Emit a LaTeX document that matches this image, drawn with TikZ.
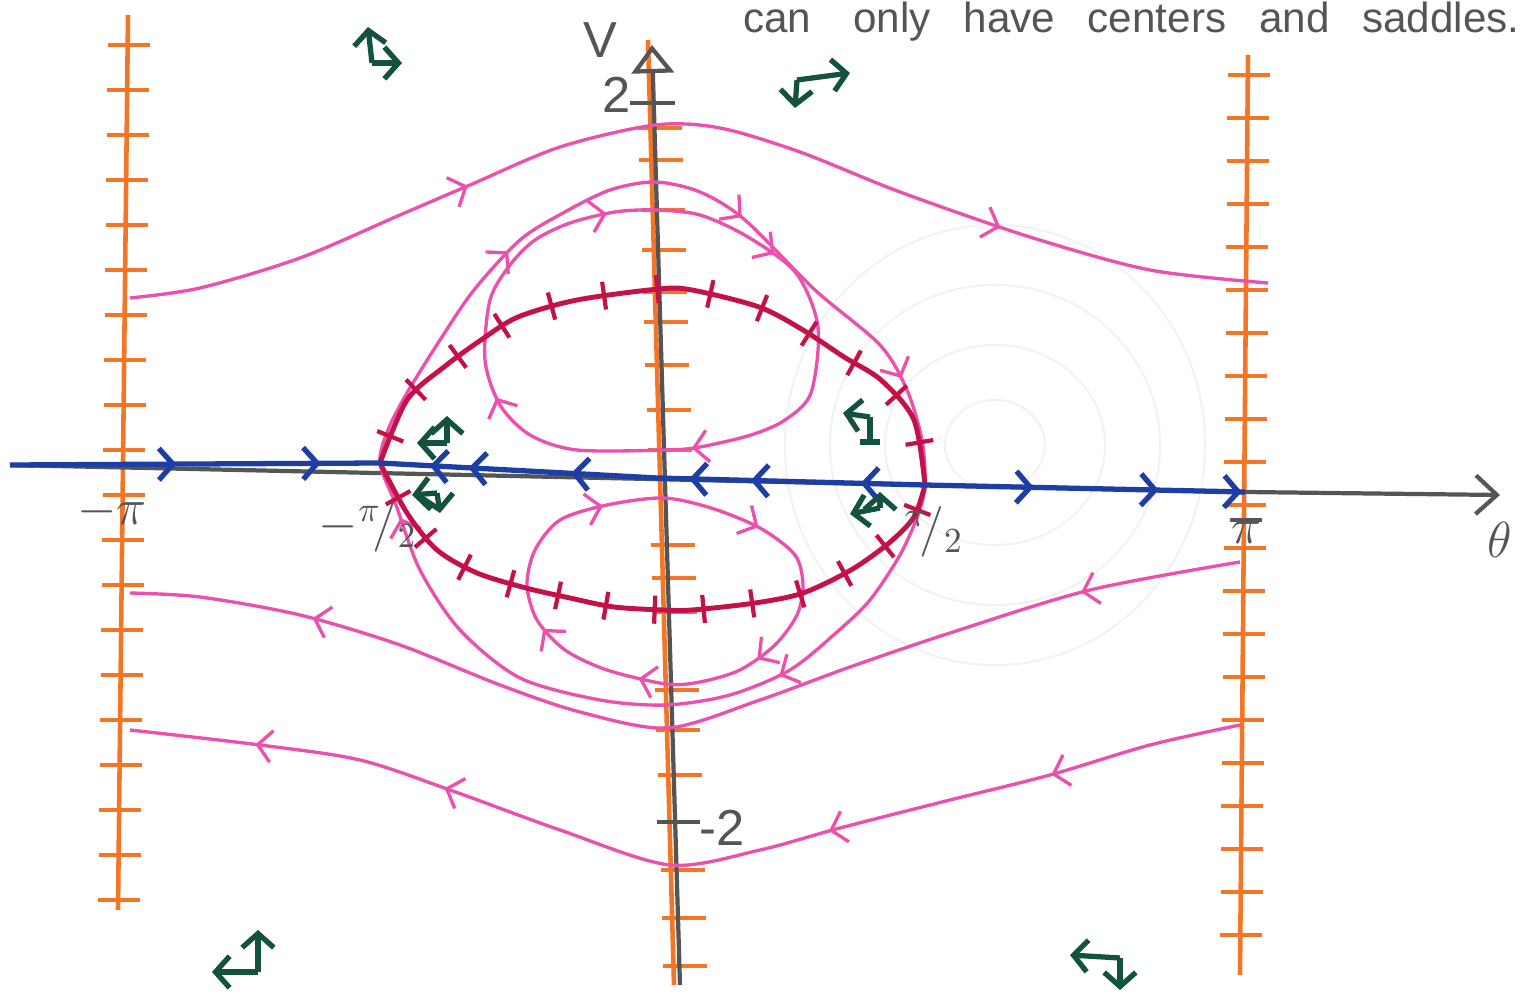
\documentclass[tikz,border=0pt]{standalone}
\usepackage{fontspec}
\setmainfont{Liberation Sans}
\usetikzlibrary{arrows.meta,decorations.markings}

\definecolor{trajpink}{RGB}{234,80,172}
\definecolor{sepred}{RGB}{196,18,72}
\definecolor{flowblue}{RGB}{28,62,165}
\definecolor{isoorange}{RGB}{242,118,38}
\definecolor{dirgreen}{RGB}{18,82,62}
\definecolor{axisgray}{RGB}{85,85,85}

\tikzset{
  traj/.style={draw=trajpink, line width=0.95pt},
  sep/.style={draw=sepred, line width=1.4pt},
  flow/.style={draw=flowblue, line width=1.5pt},
  iso/.style={draw=isoorange, line width=1.3pt},
  axisline/.style={draw=axisgray, line width=1.2pt},
  dirarr/.style={draw=dirgreen, line width=1.5pt, -{Straight Barb[length=4pt,width=9pt]}},
  arr/.style={postaction={decorate, decoration={markings,
      mark=at position #1 with {\arrow{Straight Barb[length=4pt,width=9pt]}}}}},
  tickmarks/.style={postaction={decorate, decoration={markings,
      mark=between positions 0.04 and 0.97 step 0.075 with {\draw[sepred, line width=1.2pt] (0pt,-4pt) -- (0pt,4pt);}}}},
  lbl/.style={text=axisgray, font=\Large},
}

\newcommand{\elbow}[3]{\draw[dirarr] #1 -- ++#2; \draw[dirarr] #1 -- ++#3;}

\begin{document}
\begin{tikzpicture}[x=0.01cm, y=-0.01cm]
\useasboundingbox (0,0) rectangle (1535,994);

% faint rings showing through the page
\foreach \r/\s in {0.5/0.45, 1.1/1.0, 1.65/1.6, 2.1/2.2}
  \draw[gray!10, line width=0.6pt] (995,445) ellipse [x radius=\r cm, y radius=\s cm];

% heading (cut off at the top)
\node[anchor=base east, text=axisgray, font=\fontsize{12}{14}\selectfont] (head) at (1532,33)
  {can\quad only\enspace\ have\enspace\ centers\enspace\ and\enspace\ saddles.};

\coordinate (sl) at (380,463);
\coordinate (sr) at (925,485);
\coordinate (org) at (657,478);
\coordinate (pr) at (1245,492);
\coordinate (xl) at (10,465);
\coordinate (xr) at (1500,495);
\coordinate (vtop) at (652,45);
\coordinate (vbot) at (680,985);

% isoclines
\draw[iso] (128,15) -- (118,910);
\foreach \y in {45,90,...,900}
  \draw[iso] ({128-(\y-15)*0.0112-20},\y) -- ++(42,0);
\draw[iso] (1248,55) -- (1240,975);
\foreach \y in {75,118,...,965}
  \draw[iso] ({1248-(\y-55)*0.0087-20},\y) -- ++(42,0);
\draw[iso] (648,40) -- (674,985);
\foreach \y in {128,160,210,250,292,322,365,410,450,545,578,612,690,730,775,870,918,966}
  \draw[iso] ({652+(\y-55)*0.0301-16},\y) -- ++(44,0);

% axes
\draw[axisline, -{Triangle[open,length=8pt,width=12pt]}] (vbot) -- (vtop);
\draw[axisline] (xl) -- (pr);
\draw[axisline, -{Straight Barb[length=6pt,width=11pt]}] (pr) -- (xr);
\draw[axisline] (630,103) -- (675,103);
\draw[axisline] (657,822) -- (700,822);
\draw[axisline] (1230,520) -- (1262,520);

% open orbits
\draw[traj, arr=0.3, arr=0.77] plot[smooth] coordinates {(130,298) (200,288) (300,258) (400,215) (470,185) (560,147) (655,125) (720,128) (800,152) (900,192) (1030,237) (1150,270) (1268,283)};
\draw[traj, arr=0.14, arr=0.84] plot[smooth] coordinates {(1240,562) (1090,590) (950,633) (850,667) (760,700) (668,728) (580,712) (500,685) (400,645) (300,615) (200,597) (130,593)};
\draw[traj, arr=0.17, arr=0.37, arr=0.72, arr=0.89] plot[smooth] coordinates {(1240,725) (1150,745) (1050,775) (950,800) (840,828) (760,850) (670,865) (560,830) (450,790) (360,760) (260,745) (130,730)};

% closed orbits
\draw[traj, arr=0.03, arr=0.17, arr=0.39, arr=0.68, arr=0.87] plot[smooth cycle] coordinates {(655,182) (700,192) (745,220) (815,290) (880,345) (907,390) (922,440) (925,485) (918,515) (900,555) (870,600) (837,632) (790,670) (730,695) (666,705) (600,700) (520,678) (460,630) (420,570) (396,505) (380,463) (388,430) (407,393) (440,340) (474,290) (520,240) (563,213) (610,190)};
\draw[traj, arr=0.09, arr=0.4, arr=0.63, arr=0.9] plot[smooth cycle] coordinates {(655,210) (700,215) (748,237) (796,273) (818,327) (811,393) (785,420) (751,435) (700,447) (666,450) (577,450) (530,435) (500,405) (485,360) (490,300) (510,265) (535,240) (570,223) (615,212)};
\draw[traj, arr=0.07, arr=0.3, arr=0.47, arr=0.62, arr=0.85] plot[smooth cycle] coordinates {(663,498) (711,508) (760,528) (795,555) (803,585) (797,615) (775,645) (740,670) (700,682) (666,684) (607,670) (565,650) (537,620) (527,585) (535,550) (560,520) (607,505)};

% separatrices
\draw[sep, tickmarks] plot[smooth] coordinates {(sl) (407,400) (444,367) (481,340) (518,317) (577,300) (659,289) (692,290) (759,307) (803,330) (844,357) (881,380) (914,420) (sr)};
\draw[sep, tickmarks] plot[smooth] coordinates {(sr) (914,517) (889,543) (851,570) (803,593) (755,603) (692,610) (663,610) (614,607) (570,598) (526,588) (477,573) (437,550) (407,513) (sl)};

% flow on the theta axis
\draw[flow, arr=0.45, arr=0.84] (xl) -- (sl);
\draw[flow, arr=0.31, arr=0.68, arr=0.82] (org) -- (sl);
\draw[flow, arr=0.24, arr=0.65, arr=0.88] (sr) -- (org);
\draw[flow, arr=0.34, arr=0.73, arr=0.99] (sr) -- (pr);

% direction field
\elbow{(372,63)}{(-4,-36)}{(30,0)}
\elbow{(797,80)}{(53,-7)}{(-2,28)}
\elbow{(447,443)}{(0,-27)}{(-30,0)}
\elbow{(437,493)}{(-25,2)}{(3,20)}
\draw[dirarr] (870,417) -- ++(-27,-4);
\draw[draw=dirgreen, line width=1.5pt] (870,417) -- (870,442) (860,442) -- (880,442);
\elbow{(880,508)}{(0,-16)}{(-30,6)}
\elbow{(258,972)}{(0,-42)}{(-46,0)}
\elbow{(1120,958)}{(-50,-3)}{(0,32)}

% labels
\node[lbl] (vlab) at (600,40) {V};
\node[lbl] (lab2) at (617,95) {2};
\node[lbl] (labm2) at (722,828) {-2};
\node[lbl] (labmpi) at (112,512) {$-\pi$};
\node[lbl] (labmpi2) at (368,527) {$-{}^{\pi}\!/{}_{2}$};
\node[lbl] (labpi2) at (934,532) {${}^{\pi}\!/{}_{2}$};
\node[lbl] (labpi) at (1246,533) {$\pi$};
\node[lbl] (labth) at (1500,540) {$\theta$};
\end{tikzpicture}
\end{document}
